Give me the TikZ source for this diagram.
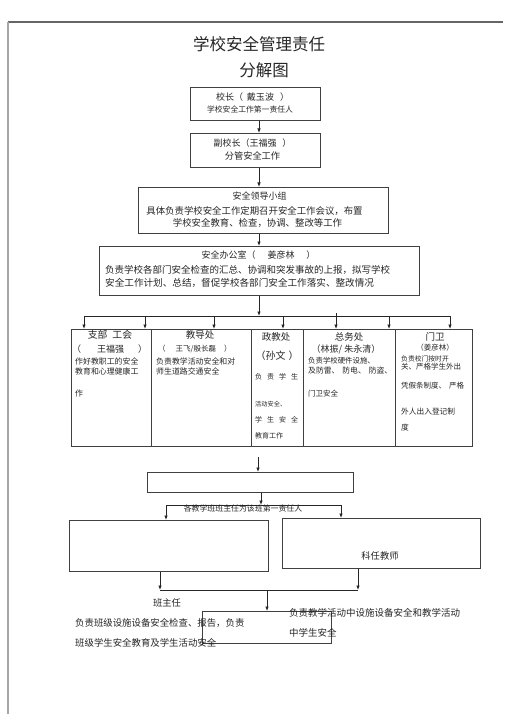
\documentclass[tikz,border=0pt]{standalone}
\usepackage{fontspec}
\setmainfont{Noto Sans CJK SC}
\usetikzlibrary{arrows.meta}
\newcommand\fsz[1]{\fontsize{#1pt}{#1pt}\selectfont}
\begin{document}
\begin{tikzpicture}[x=1pt,y=-1pt,
  bx/.style={draw=black!75, line width=0.8pt, inner sep=0pt, anchor=north west},
  arr/.style={draw=black!85, line width=0.8pt, -{Latex[length=4.5pt,width=3.6pt]}},
  ln/.style={draw=black!85, line width=0.8pt},
  tx/.style={inner sep=0pt, text=black!85},
  tl/.style={tx, anchor=west}]
\useasboundingbox[fill=white] (0,0) rectangle (505,714);
% page frame
\draw[black!60, line width=1.3pt] (8,22) -- (503,22);
\draw[black!35, line width=1.3pt] (8,22) -- (8,714);
% boxes
\node[bx, minimum width=130pt, minimum height=33pt] (b1) at (190,87) {};
\node[bx, minimum width=130pt, minimum height=34pt] (b2) at (190,133) {};
\node[bx, minimum width=250pt, minimum height=46pt] (b3) at (138,187) {};
\node[bx, minimum width=320pt, minimum height=49pt] (b4) at (99,246) {};
\node[bx, minimum width=80pt, minimum height=117pt] (c1) at (71,329) {};
\node[bx, minimum width=100pt, minimum height=117pt] (c2) at (151,329) {};
\node[bx, minimum width=52pt, minimum height=117pt] (c3) at (251,329) {};
\node[bx, minimum width=92pt, minimum height=117pt] (c4) at (303,329) {};
\node[bx, minimum width=77pt, minimum height=117pt] (c5) at (395,329) {};
\node[bx, minimum width=206pt, minimum height=20pt] (d) at (147,472) {};
\node[bx, minimum width=199pt, minimum height=51pt] (e1) at (69,520) {};
\node[bx, minimum width=198pt, minimum height=50pt] (e2) at (282,518) {};
\node[bx, minimum width=129pt, minimum height=32pt] (f) at (202,611) {};
% connectors
\draw[arr] (b1.south -| 259,0) -- (b2.north -| 259,0);
\draw[arr] (b2.south -| 259,0) -- (b3.north -| 259,0);
\draw[arr] (b3.south -| 259,0) -- (b4.north -| 259,0);
\coordinate (j1) at (259,316);
\coordinate (h1w) at (84,316);
\coordinate (h1e) at (450,316);
\draw[arr] (b4.south -| j1) -- (j1);
\draw[ln] (h1w) -- (h1e);
\foreach \x/\b in {84/c1,145/c1,214/c2,283/c3,389/c4,450/c5}{
  \coordinate (tap\x) at (\x,316);
  \draw[arr] (tap\x) -- (\b.north -| tap\x);
}
\coordinate (tap336) at (336,313);
\draw[arr] (tap336) -- (c4.north -| tap336);
\coordinate (r0) at (258,457);
\draw[arr] (r0) -- (d.north -| r0);
\coordinate (j2) at (261,505);
\coordinate (h2w) at (166,505);
\coordinate (h2e) at (341,505);
\draw[arr] (d.south -| j2) -- (j2);
\draw[ln] (h2w) -- (h2e);
\draw[arr] (h2w) -- (e1.north -| h2w);
\draw[arr] (h2e) -- (e2.north -| h2e);
\coordinate (k1) at (160,590);
\coordinate (k2) at (358,590);
\coordinate (j3) at (267,590);
\draw[arr] (e1.south -| k1) -- (k1);
\draw[arr] (e2.south -| k2) -- (k2);
\draw[ln] (k1) -- (k2);
\draw[arr] (j3) -- (f.north -| j3);
% title
\node[tx, font=\fsz{16.5}] (t1) at (259,44) {学校安全管理责任};
\node[tx, font=\fsz{16.5}] (t2) at (264,70) {分解图};
% b1, b2
\node[tx, font=\fsz{9}] (b1a) at (252.5,97) {校长（\hspace{4pt}戴玉波\hspace{6pt}）};
\node[tx, font=\fsz{7.8}] (b1b) at (250,110) {学校安全工作第一责任人};
\node[tx, font=\fsz{9}] (b2a) at (252.5,143) {副校长（王福强\hspace{6pt}）};
\node[tx, font=\fsz{9.2}] (b2b) at (252.5,156) {分管安全工作};
% b3
\node[tx, font=\fsz{9}] (b3a) at (259.5,196) {安全领导小组};
\node[tx, font=\fsz{9.4}] (b3b) at (254.5,211) {具体负责学校安全工作定期召开安全工作会议，布置};
\node[tx, font=\fsz{9.4}] (b3c) at (257.5,223) {学校安全教育、检查，协调、整改等工作};
% b4
\node[tx, font=\fsz{9}] (b4a) at (258.5,255) {安全办公室（\hspace{12pt}姜彦林\hspace{12pt}）};
\node[tl, font=\fsz{9.5}] (b4b) at (105,270) {负责学校各部门安全检查的汇总、协调和突发事故的上报，拟写学校};
\node[tl, font=\fsz{9.6}] (b4c) at (105,283) {安全工作计划、总结，督促学校各部门安全工作落实、整改情况};
% c1
\node[tx, font=\fsz{9.8}] (c1a) at (110,335) {支部\hspace{5pt}工会};
\node[tl, font=\fsz{9}] (c1b) at (72,349) {（\hspace{16pt}王福强\hspace{14pt}）};
\node[tl, font=\fsz{7.9}] (c1c) at (75,361) {作好教职工的安全};
\node[tl, font=\fsz{7.9}] (c1d) at (75,371) {教育和心理健康工};
\node[tl, font=\fsz{7.9}] (c1e) at (75,394) {作};
% c2
\node[tx, font=\fsz{9.5}] (c2a) at (200,335) {教导处};
\node[tl, font=\fsz{7.5}] (c2b) at (158,349) {（\hspace{10pt}王飞/殷长磊\hspace{8pt}）};
\node[tl, font=\fsz{7.9}] (c2c) at (156,361) {负责教学活动安全和对};
\node[tl, font=\fsz{7.9}] (c2d) at (156,371) {师生道路交通安全};
% c3
\node[tx, font=\fsz{9.5}] (c3a) at (276,337) {政教处};
\node[tx, font=\fsz{10}] (c3b) at (277,356) {（孙文\hspace{3pt}）};
\node[tl, font=\fsz{7}] (c3c) at (255,377) {负\hspace{5pt}责\hspace{5pt}学\hspace{5pt}生};
\node[tl, font=\fsz{6.2}] (c3d) at (255,404) {活动安全、};
\node[tl, font=\fsz{7}] (c3e) at (255,420) {学\hspace{5pt}生\hspace{5pt}安\hspace{5pt}全};
\node[tl, font=\fsz{7}] (c3f) at (255,436) {教育工作};
% c4
\node[tx, font=\fsz{9.5}] (c4a) at (349,337) {总务处};
\node[tx, font=\fsz{9}] (c4b) at (346,349) {（林振/\hspace{2pt}朱永清）};
\node[tl, font=\fsz{7.4}] (c4c) at (308,361) {负责学校硬件设施、};
\node[tl, font=\fsz{7.8}] (c4d) at (308,371) {及防雷、\hspace{3pt}防电、\hspace{3pt}防盗、};
\node[tl, font=\fsz{7.5}] (c4e) at (308,394) {门卫安全};
% c5
\node[tx, font=\fsz{9.5}] (c5a) at (435,337) {门卫};
\node[tx, font=\fsz{7.5}] (c5b) at (435,348) {（姜彦林）};
\node[tl, font=\fsz{6.8}] (c5c) at (401,359) {负责校门按时开};
\node[tl, font=\fsz{7.5}] (c5d) at (401,367) {关、严格学生外出};
\node[tl, font=\fsz{7.5}] (c5e) at (401,386) {凭假条制度、\hspace{3pt}严格};
\node[tl, font=\fsz{7.7}] (c5f) at (401,412) {外人出入登记制};
\node[tl, font=\fsz{7.7}] (c5g) at (401,428) {度};
% bottom
\node[tx, font=\fsz{7.9}] (g1) at (243,508) {各教学班班主任为该班第一责任人};
\node[tx, font=\fsz{9.3}] (g2) at (380,556) {科任教师};
\node[tx, font=\fsz{9.3}] (g3) at (167,603) {班主任};
\node[tl, font=\fsz{9.4}] (g4) at (75,623) {负责班级设施设备安全检查、报告，负责};
\node[tl, font=\fsz{9.4}] (g5) at (75,643) {班级学生安全教育及学生活动安全};
\node[tl, font=\fsz{9.5}] (g6) at (289,613) {负责教学活动中设施设备安全和教学活动};
\node[tl, font=\fsz{9.5}] (g7) at (289,633) {中学生安全};
\end{tikzpicture}
\end{document}
